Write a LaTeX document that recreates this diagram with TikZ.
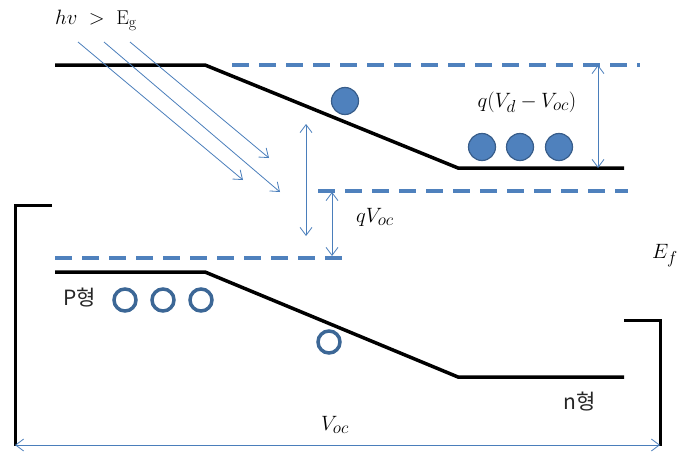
\documentclass[tikz,border=0pt]{standalone}
\usepackage{fontspec}
\newfontfamily\krfont{Noto Sans CJK KR}
\usetikzlibrary{arrows.meta}
\DeclareMathSizes{20}{20}{16}{12}
\definecolor{dashblue}{HTML}{4F81BD}
\definecolor{arrblue}{HTML}{4A7EBB}
\definecolor{circedge}{HTML}{385D8A}
\definecolor{holeblue}{HTML}{3C6796}
\tikzset{
  band/.style={line width=3.5pt, black},
  qfermi/.style={line width=3.5pt, dashblue, dash pattern=on 17pt off 10pt},
  dimarrow/.style={arrblue, line width=0.8pt, {Straight Barb[length=8pt,width=12pt]}-{Straight Barb[length=8pt,width=12pt]}},
  lightarrow/.style={arrblue, line width=0.8pt, -{Straight Barb[length=8pt,width=12pt]}},
  electron/.style={circle, fill=dashblue, draw=circedge, line width=1.2pt, minimum size=#1, inner sep=0pt},
  hole/.style={circle, draw=holeblue, line width=3.5pt, minimum size=22pt, inner sep=0pt},
  bracket/.style={line width=3pt, black},
  mlabel/.style={font=\fontsize{20}{22}\selectfont, inner sep=0pt},
  klabel/.style={font=\krfont\fontsize{21}{23}\selectfont, inner sep=0pt, text=black!85},
}
\begin{document}
\begin{tikzpicture}[x=1pt,y=-1pt]
\useasboundingbox (0,0) rectangle (678,455);
% band edges
\coordinate (cb1) at (55,65); \coordinate (cb2) at (205,65);
\coordinate (cb3) at (458,168); \coordinate (cb4) at (624,168);
\coordinate (vb1) at (55,272); \coordinate (vb2) at (205,272);
\coordinate (vb3) at (458,377); \coordinate (vb4) at (624,377);
\draw[band] (cb1) -- (cb2) -- (cb3) -- (cb4);
\draw[band] (vb1) -- (vb2) -- (vb3) -- (vb4);
% dashed quasi-Fermi lines
\coordinate (d1a) at (232,65); \coordinate (d1b) at (640,65);
\coordinate (d2a) at (318,191); \coordinate (d2b) at (628,191);
\coordinate (d3a) at (55,258); \coordinate (d3b) at (348,258);
\draw[qfermi] (d1a) -- (d1b);
\draw[qfermi] (d2a) -- (d2b);
\draw[qfermi] (d3a) -- (d3b);
% brackets
\coordinate (lb1) at (52,205); \coordinate (lb2) at (15,205); \coordinate (lb3) at (15,446);
\coordinate (rb1) at (624,320); \coordinate (rb2) at (660,320); \coordinate (rb3) at (660,446);
\draw[bracket] (lb1) -- (lb2) -- (lb3);
\draw[bracket] (rb1) -- (rb2) -- (rb3);
% Voc arrow
\coordinate (va) at (15,445); \coordinate (vb) at (660,445);
\draw[dimarrow] (va) -- (vb);
\node[mlabel] (voc) at (335,425) {$V_{oc}$};
% light arrows
\node[mlabel, anchor=west] (hv) at (55,20) {$hv\;>\;\mathrm{E_g}$};
\coordinate (l1a) at (78,42); \coordinate (l1b) at (243,180);
\coordinate (l2a) at (104,42); \coordinate (l2b) at (280,192);
\coordinate (l3a) at (130,42); \coordinate (l3b) at (269,158);
\draw[lightarrow] (l1a) -- (l1b);
\draw[lightarrow] (l2a) -- (l2b);
\draw[lightarrow] (l3a) -- (l3b);
% vertical arrows
\coordinate (a1t) at (306,124); \coordinate (a1b) at (306,236);
\draw[dimarrow] (a1t) -- (a1b);
\coordinate (a2t) at (332,192); \coordinate (a2b) at (332,256);
\draw[dimarrow] (a2t) -- (a2b);
\node[mlabel, anchor=west] (qvoc) at (356,217) {$qV_{oc}$};
\coordinate (a3t) at (598,65); \coordinate (a3b) at (598,168);
\draw[dimarrow] (a3t) -- (a3b);
\node[mlabel] (qvd) at (527,102) {$q(V_{d}-V_{oc})$};
\node[mlabel] (ef) at (665,256) {$E_f$};
% electrons
\node[electron=27pt] (e0) at (345,101) {};
\node[electron=27pt] (e1) at (482,147) {};
\node[electron=27pt] (e2) at (520,147) {};
\node[electron=27pt] (e3) at (559,147) {};
% holes
\node[hole] (h1) at (125,300) {};
\node[hole] (h2) at (163,300) {};
\node[hole] (h3) at (201,300) {};
\node[hole] (h4) at (329,342) {};
% type labels
\node[klabel, anchor=west] (pt) at (63,298) {P형};
\node[klabel, anchor=west] (nt) at (563,402) {n형};
\end{tikzpicture}
\end{document}
